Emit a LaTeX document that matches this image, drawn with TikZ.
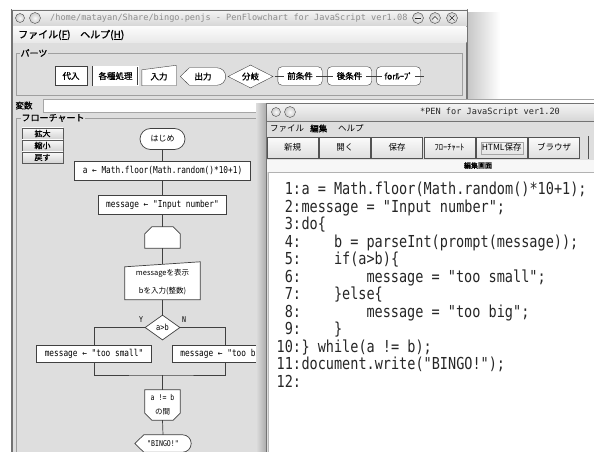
\documentclass[tikz,border=0pt]{standalone}
\usepackage{fontspec}
\usetikzlibrary{calc,shapes.geometric,shapes.misc}

\newfontfamily\jpfont{Noto Sans CJK JP}
\newfontfamily\jpbold[FakeBold=1.2]{Noto Sans CJK JP}
\newfontfamily\codefont[FakeStretch=0.82]{DejaVu Sans Mono}
\newfontfamily\titlefont{DejaVu Sans Mono}

\definecolor{winbg}{gray}{0.87}
\definecolor{winedge}{gray}{0.45}

\pgfdeclarelayer{back}
\pgfdeclarelayer{shapes}
\pgfsetlayers{back,shapes,main}

\begin{document}
\begin{tikzpicture}[
    x=1pt, y=-1pt,
    win/.style={draw=winedge, fill=winbg},
    titlebar/.style={draw=winedge, top color=gray!8, bottom color=gray!32},
    groupbox/.style={draw=gray!75, line width=0.9pt},
    grouplabel/.style={fill=winbg, inner sep=1pt, font=\jpbold\fontsize{9}{9}\selectfont},
    wbtn/.style={circle, draw=gray!60!black, inner color=gray!5, outer color=gray!40, minimum size=11pt, inner sep=0pt},
    sidebtn/.style={draw=gray!70!black, top color=gray!4, bottom color=gray!35, minimum width=41pt, minimum height=11.5pt, inner sep=0pt, font=\jpbold\fontsize{8}{8}\selectfont},
    part/.style={draw=black!75, fill=white, minimum height=19pt, inner sep=0pt, font=\jpbold\fontsize{8.5}{8.5}\selectfont},
    partshape/.style={minimum height=18pt, inner sep=0pt, font=\jpbold\fontsize{8.5}{8.5}\selectfont},
    fcline/.style={draw=black!75, line width=0.7pt},
    proc/.style={fcline, fill=white, minimum height=19pt, inner xsep=8pt, inner ysep=0pt, font=\codefont\fontsize{9.5}{10}\selectfont},
    fcshape/.style={inner sep=0pt, align=center},
    toolbtn/.style={draw=gray!65!black, top color=gray!3, bottom color=gray!25, minimum width=51pt, minimum height=21pt, inner sep=0pt, font=\jpfont\fontsize{8.5}{8.5}\selectfont},
    srcline/.style={inner sep=0pt, font=\codefont\fontsize{16.5}{17}\selectfont, text=black!85}
]
\useasboundingbox (0,0) rectangle (594,452);

% back window: frame, menu strip, group boxes
\begin{pgfonlayer}{back}
  \fill[white] (0,0) rectangle (594,452);
  \shade[left color=gray!45, right color=white] (467,13) rectangle (500,106);
  \draw[win, line width=1.2pt] (12,10) rectangle (467,470);
  \draw[titlebar] (12,10) rectangle (467,26);
  \shade[top color=gray!3, bottom color=gray!18] (13,26.6) rectangle (466.4,43);
  \draw[groupbox] (16,53) rectangle (462,95);
  \draw[gray!70, fill=white] (43,99) rectangle (600,112);
  \draw[groupbox] (16,118) rectangle (462,470);
\end{pgfonlayer}

% title bar
\node[wbtn, minimum size=9pt, rounded rectangle, fill=gray!50] (appicon) at (20,18) {};
\node[wbtn] (shade1) at (35,18) {};
\node[anchor=west, inner sep=0pt, text=gray!90, font=\titlefont\fontsize{8.6}{9}\selectfont] (title1) at (50,18)
    {/home/matayan/Share/bingo.penjs - PenFlowchart for JavaScript ver1.08};
\node[wbtn] (wmin) at (418,18) {};
\node[wbtn] (wmax) at (435,18) {};
\node[wbtn] (wclose) at (452,18) {};
\draw[gray!30!black] ($(wmin)+(-3,0)$) -- ($(wmin)+(3,0)$);
\draw[gray!30!black] ($(wmax)+(-3,1.5)$) -- ($(wmax)+(0,-1.5)$) -- ($(wmax)+(3,1.5)$);
\draw[gray!30!black] ($(wclose)+(-2.5,-2.5)$) -- ($(wclose)+(2.5,2.5)$) ($(wclose)+(-2.5,2.5)$) -- ($(wclose)+(2.5,-2.5)$);

% menu
\node[anchor=west, inner sep=0pt, font=\jpbold\fontsize{10}{10}\selectfont] (mfile) at (18,35) {ファイル(\underline{F})};
\node[anchor=west, inner sep=0pt, font=\jpbold\fontsize{10}{10}\selectfont] (mhelp) at (80,35) {ヘルプ(\underline{H})};

% parts palette
\node[grouplabel] (partstitle) at (34,53) {パーツ};
\node[part, minimum width=32pt] (passign) at (71,76) {代入};
\node[part, minimum width=45pt, double=white, double distance=0.8pt] (pproc) at (115.5,76) {各種処理};
\node[partshape, minimum width=34pt] (pinput) at (159,76.5) {入力};
\node[partshape, minimum width=45pt, minimum height=17pt] (pshow) at (203,76.5) {出力};
\node[diamond, aspect=2, draw=black!75, fill=white, minimum width=45pt, minimum height=23pt, inner sep=0pt,
      font=\jpbold\fontsize{8.5}{8.5}\selectfont] (pbranch) at (250.5,76.5) {分岐};
\node[partshape, minimum width=44pt] (ppre) at (300,76) {前条件};
\node[partshape, minimum width=44pt] (ppost) at (349.5,76) {後条件};
\node[partshape, minimum width=44pt] (pfor) at (398.5,76) {forﾙｰﾌﾟ};

\begin{pgfonlayer}{shapes}
  \draw[draw=black!75, fill=white] (pinput.south west) -- ($(pinput.north west)+(0,2.5)$)
      -- ($(pinput.north east)+(0,-2)$) -- (pinput.south east) -- cycle;
  \draw[draw=black!75, fill=white] (pshow.west) -- ($(pshow.north west)+(9,0)$) -- ($(pshow.north east)+(-8.5,0)$)
      .. controls ($(pshow.north east)+(-3.8,0)$) and ($(pshow.east)+(0,-4.7)$) .. (pshow.east)
      .. controls ($(pshow.east)+(0,4.7)$) and ($(pshow.south east)+(-3.8,0)$) .. ($(pshow.south east)+(-8.5,0)$)
      -- ($(pshow.south west)+(9,0)$) -- cycle;
  \foreach \p in {ppre,ppost,pfor} {
    \draw[draw=black!75, fill=white, rounded corners=4pt] (\p.north west) rectangle (\p.south east);
    \draw[black!75] ($(\p.west)+(-3,0)$) -- ++(9,0);
    \draw[black!75] ($(\p.east)+(3,0)$) -- ++(-9,0);
  }
\end{pgfonlayer}

% variable field
\node[inner sep=0pt, font=\jpbold\fontsize{8.5}{8.5}\selectfont] (varlabel) at (24,105.5) {変数};

% flowchart panel
\node[grouplabel] (fctitle) at (53,118) {フローチャート};
\node[sidebtn] (zoomin) at (42.5,133.5) {拡大};
\node[sidebtn] (zoomout) at (42.5,145.5) {縮小};
\node[sidebtn] (zoomreset) at (42.5,157.5) {戻す};

\node[proc, rounded corners=10.5pt, minimum width=45pt, minimum height=21pt, font=\jpfont\fontsize{8}{8}\selectfont] (start) at (162.5,139) {はじめ};
\node[proc] (rnd) at (162.5,170.5) {a ← Math.floor(Math.random()*10+1)};
\node[proc] (msg) at (162.5,205) {message ← "Input number"};
\node[fcshape, minimum width=35pt, minimum height=21pt] (dostart) at (162.5,237.5) {};
\node[fcshape, minimum width=75pt, minimum height=35pt, font=\jpfont\fontsize{7.5}{18}\selectfont] (ask) at (162.5,282)
    {messageを表示\\bを入力(整数)};
\node[diamond, aspect=1.4, fcline, fill=white, minimum width=35pt, minimum height=25pt, inner sep=0pt,
      font=\codefont\fontsize{8.5}{9}\selectfont] (cmp) at (162.5,327.5) {a>b};
\node[inner sep=0pt, font=\codefont\fontsize{8}{8}\selectfont] (ylab) at (141,320) {Y};
\node[inner sep=0pt, font=\codefont\fontsize{8}{8}\selectfont] (nlab) at (184,320) {N};
\node[proc, minimum height=17pt] (small) at (94,353.5) {message ← "too small"};
\node[proc, minimum height=17pt] (big) at (225,353.5) {message ← "too big"};
\coordinate (merge) at (162.5,375);
\node[fcshape, minimum width=35pt, minimum height=30pt, font=\codefont\fontsize{8}{14}\selectfont] (doend) at (162.5,405)
    {a != b\\{\jpfont\fontsize{7.5}{14}\selectfont の間}};
\node[fcshape, minimum width=56pt, minimum height=17pt, font=\codefont\fontsize{8}{8}\selectfont] (bingo) at (163,443.5) {"BINGO!"};

\begin{pgfonlayer}{shapes}
  \draw[fcline, fill=white] (dostart.south west) -- ($(dostart.north west)+(0,7)$) -- ($(dostart.north west)+(7,0)$)
      -- ($(dostart.north east)+(-7,0)$) -- ($(dostart.north east)+(0,7)$) -- (dostart.south east) -- cycle;
  \draw[fcline, fill=white] (ask.south west) -- ($(ask.north west)+(0,2.5)$)
      -- ($(ask.north east)+(0,-2.5)$) -- (ask.south east) -- cycle;
  \draw[fcline, fill=white] (doend.north west) -- ($(doend.south west)+(0,-7)$) -- ($(doend.south west)+(7,0)$)
      -- ($(doend.south east)+(-7,0)$) -- ($(doend.south east)+(0,-7)$) -- (doend.north east) -- cycle;
  \draw[fcline, fill=white] (bingo.west) -- ($(bingo.north west)+(9,0)$) -- ($(bingo.north east)+(-8.5,0)$)
      .. controls ($(bingo.north east)+(-3.8,0)$) and ($(bingo.east)+(0,-4.7)$) .. (bingo.east)
      .. controls ($(bingo.east)+(0,4.7)$) and ($(bingo.south east)+(-3.8,0)$) .. ($(bingo.south east)+(-8.5,0)$)
      -- ($(bingo.south west)+(9,0)$) -- cycle;
\end{pgfonlayer}

\draw[fcline] (start.south) -- (rnd.north);
\draw[fcline] (rnd.south) -- (msg.north);
\draw[fcline] (msg.south) -- (dostart.north);
\draw[fcline] (dostart.south) -- (ask.north);
\draw[fcline] (ask.south) -- (cmp.north);
\draw[fcline] (cmp.west) -| (small.north);
\draw[fcline] (cmp.east) -| (big.north);
\draw[fcline] (small.south) |- (merge) -| (big.south);
\draw[fcline] (merge) -- (doend.north);
\draw[fcline] (doend.south) -- (bingo.north);

% front window: editor
\shade[left color=winbg, right color=gray!65] (256,103) rectangle (266,460);
\draw[win] (266,103) rectangle (600,470);
\draw[titlebar] (266,103) rectangle (600,121);
\node[wbtn, minimum size=9pt] (edicon) at (276,112) {};
\node[wbtn] (edshade) at (290,112) {};
\node[inner sep=0pt, text=gray!30!black, font=\titlefont\fontsize{8.6}{9}\selectfont] (title2) at (490,112)
    {*PEN for JavaScript ver1.20};

\node[anchor=west, inner sep=0pt, font=\jpfont\fontsize{8.5}{8.5}\selectfont] (efile) at (270,128.5) {ファイル};
\node[anchor=west, inner sep=0pt, font=\jpbold\fontsize{8.5}{8.5}\selectfont] (eedit) at (310,128.5) {編集};
\node[anchor=west, inner sep=0pt, font=\jpfont\fontsize{8.5}{8.5}\selectfont] (ehelp) at (338,128.5) {ヘルプ};

\foreach \lbl [count=\i from 0] in {新規,開く,保存,ﾌﾛｰﾁｬｰﾄ,HTML保存,ブラウザ}
  \node[toolbtn] (tb\i) at ({292.5+\i*52.3},147.5) {\lbl};
\draw[gray!70] ($(tb4.north west)+(5,5)$) rectangle ($(tb4.south east)+(-4,-4)$);
\draw[gray!65!black] (588,136) -- (588,159);

\fill[gray!6] (267,159.5) rectangle (600,171.5);
\node[inner sep=0pt, font=\jpbold\fontsize{7}{7}\selectfont] (panename) at (478,165.5) {編集画面};

% source listing
\draw[gray!60, fill=white] (268,172) rectangle (600,470);
\draw[gray!55, line width=1.6pt] (268.5,172) -- (268.5,470);
\foreach \row/\ind/\src in {
    1/0/{a = Math.floor(Math.random()*10+1);},
    2/0/{message = "Input number";},
    3/0/{do\{},
    4/1/{b = parseInt(prompt(message));},
    5/1/{if(a>b)\{},
    6/2/{message = "too small";},
    7/1/{\}else\{},
    8/2/{message = "too big";},
    9/1/{\}},
    10/0/{\} while(a != b);},
    11/0/{document.write("BINGO!");},
    12/0/{}} {
  \node[srcline, anchor=base east] (ln\row) at (301.3,{194.5+(\row-1)*17.5}) {\row:};
  \node[srcline, anchor=base west] (src\row) at ({301.3+\ind*32.5},{194.5+(\row-1)*17.5}) {\src};
}

\end{tikzpicture}
\end{document}
